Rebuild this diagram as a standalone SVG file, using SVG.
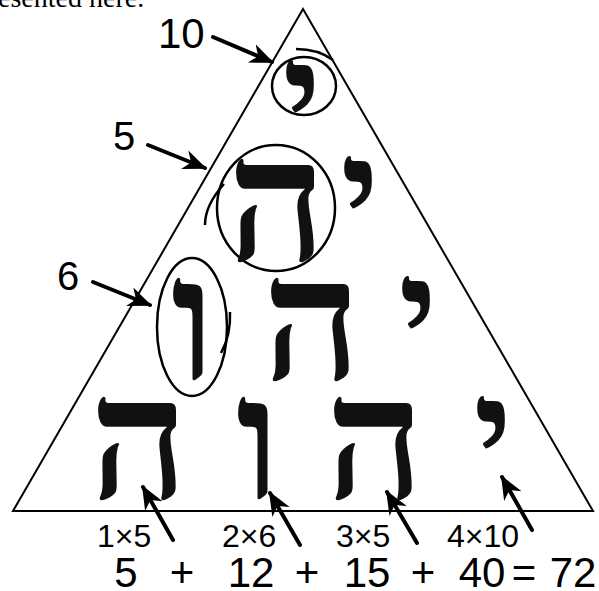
<svg xmlns="http://www.w3.org/2000/svg" width="599" height="591" viewBox="0 0 599 591">
<style>
.lbl{font-family:"Liberation Sans",Arial,sans-serif;fill:#000}
.heb{font-family:"Liberation Serif","DejaVu Serif",serif;font-weight:bold;fill:#111;text-anchor:middle;font-size:172px}
.yod{font-size:148px}
.ring{fill:none;stroke:#000;stroke-width:2.5}
.arr{fill:none;stroke:#000;stroke-width:4;stroke-linecap:round}
</style>
<defs>
<marker id="ah" viewBox="0 -11 24 22" refX="22" refY="0" markerWidth="24" markerHeight="22" markerUnits="userSpaceOnUse" orient="auto">
<path d="M0,-10 L24,0 L0,10 L7,0 Z" fill="#000"/>
</marker>
</defs>
<rect width="599" height="591" fill="#fff"/>
<text x="-2" y="7" font-family="Liberation Serif,serif" font-size="28">esented here.</text>
<g id="triangle"><path d="M303,9 L13,511 L593,511 Z" fill="none" stroke="#000" stroke-width="2"/></g>
<g id="rings">
<ellipse class="ring" cx="304" cy="86" rx="32" ry="29"/>
<path class="ring" d="M296,49 Q318,49 333,60" stroke-width="2"/>
<ellipse class="ring" cx="276" cy="208" rx="59" ry="63"/>
<path class="ring" d="M224,184 Q205,205 205,225" stroke-width="3.5"/>
<ellipse class="ring" cx="192" cy="327" rx="35" ry="69"/>
<path class="ring" d="M230,312 Q231,335 221,353" stroke-width="2"/>
</g>
<g id="letters">
<text class="heb yod" x="302" y="147">י</text>
<text class="heb" x="277" y="260">ה</text>
<text class="heb yod" x="360" y="243">י</text>
<text class="heb" x="193" y="379">ו</text>
<text class="heb" x="312" y="379">ה</text>
<text class="heb yod" x="418" y="363">י</text>
<text class="heb" x="139" y="498">ה</text>
<text class="heb" x="258" y="498">ו</text>
<text class="heb" x="375" y="498">ה</text>
<text class="heb yod" x="493" y="483">י</text>
</g>
<g id="labels">
<text class="lbl" x="158" y="48" font-size="42">10</text>
<text class="lbl" x="113" y="150" font-size="40">5</text>
<text class="lbl" x="57" y="290" font-size="40">6</text>
<text class="lbl" x="97" y="547" font-size="32">1×5</text>
<text class="lbl" x="222" y="547" font-size="32">2×6</text>
<text class="lbl" x="336" y="547" font-size="32">3×5</text>
<text class="lbl" x="447" y="547" font-size="32">4×10</text>
<g class="lbl" font-size="42" text-anchor="middle">
<text x="126" y="587">5</text>
<text x="182" y="587">+</text>
<text x="251" y="587">12</text>
<text x="307" y="587">+</text>
<text x="367" y="587">15</text>
<text x="423" y="587">+</text>
<text x="482" y="587">40</text>
<text x="524" y="587">=</text>
<text x="573" y="587">72</text>
</g>
</g>
<g id="connectors">
<line class="arr" x1="213" y1="37" x2="272" y2="62" marker-end="url(#ah)"/>
<line class="arr" x1="148" y1="145" x2="205" y2="168" marker-end="url(#ah)"/>
<line class="arr" x1="93" y1="282" x2="150" y2="305" marker-end="url(#ah)"/>
<line class="arr" x1="173" y1="540" x2="143" y2="487" marker-end="url(#ah)"/>
<line class="arr" x1="300" y1="545" x2="270" y2="493" marker-end="url(#ah)"/>
<line class="arr" x1="417" y1="543" x2="387" y2="492" marker-end="url(#ah)"/>
<line class="arr" x1="532" y1="530" x2="502" y2="477" marker-end="url(#ah)"/>
</g>
</svg>
